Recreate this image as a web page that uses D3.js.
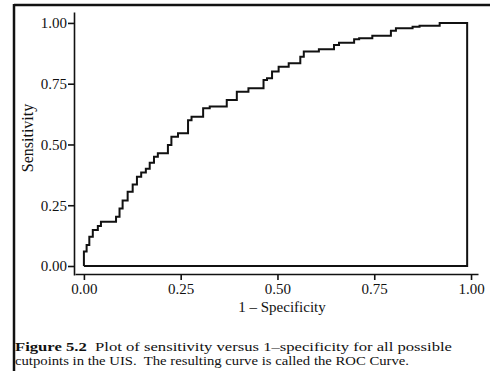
<!DOCTYPE html>
<html>
<head>
<meta charset="utf-8">
<script src="https://cdn.jsdelivr.net/npm/d3@7"></script>
<style>
  body { margin: 0; background: #fff; }
  svg { display: block; }
  text { font-family: "Liberation Serif", "DejaVu Serif", serif; fill: #111; }
</style>
</head>
<body>
<svg id="chart" width="490" height="371"></svg>
<script>
// ROC curve: 1 - specificity (x) and sensitivity (y)
const fpr = [0.00, 0.00, 0.007, 0.014, 0.023, 0.036, 0.044, 0.062, 0.083, 0.092,
  0.10, 0.113, 0.126, 0.137, 0.148, 0.16, 0.17, 0.181, 0.191, 0.217,
  0.226, 0.243, 0.269, 0.278, 0.308, 0.325, 0.369, 0.395, 0.425, 0.464,
  0.473, 0.486, 0.503, 0.529, 0.559, 0.568, 0.607, 0.646, 0.659, 0.698,
  0.711, 0.745, 0.754, 0.793, 0.806, 0.849, 0.867, 0.919, 0.923, 0.99, 0.99, 0.00];
const tpr = [0.00, 0.038, 0.06, 0.086, 0.12, 0.148, 0.165, 0.182, 0.182, 0.203,
  0.237, 0.27, 0.306, 0.335, 0.367, 0.385, 0.40, 0.425, 0.45, 0.464,
  0.498, 0.532, 0.546, 0.60, 0.614, 0.649, 0.656, 0.683, 0.717, 0.731,
  0.765, 0.772, 0.80, 0.82, 0.834, 0.861, 0.882, 0.892, 0.909, 0.919,
  0.933, 0.937, 0.947, 0.947, 0.968, 0.978, 0.984, 0.988, 1.0, 1.0, 0.0, 0.0];

const ticks = [0, 0.25, 0.5, 0.75, 1];
const xTitle = "1 \u2013 Specificity";
const yTitle = "Sensitivity";
const captionBold = "Figure 5.2";
const captionLines = [
  "  Plot of sensitivity versus 1\u2013specificity for all possible",
  "cutpoints in the UIS.  The resulting curve is called the ROC Curve."
];

const svg = d3.select("#chart");

// frame (cropped box)
svg.append("line").attr("x1", 14).attr("x2", 490).attr("y1", 5).attr("y2", 5)
  .attr("stroke", "#111").attr("stroke-width", 2.5);
svg.append("line").attr("x1", 14).attr("x2", 14).attr("y1", 4).attr("y2", 371)
  .attr("stroke", "#111").attr("stroke-width", 2.5);

// scales: domains padded so the axis lines overrun the data like the original
const x = d3.scaleLinear().domain([-0.023, 1.018]).range([75, 478]);
const y = d3.scaleLinear().domain([-0.037, 1.045]).range([275, 12]);

const fmt = d3.format(".2f");

const xAxis = svg.append("g")
  .attr("transform", "translate(0,274)")
  .call(d3.axisBottom(x).tickValues(ticks).tickFormat(fmt).tickSize(6).tickSizeOuter(0).tickPadding(3));

const yAxis = svg.append("g")
  .attr("transform", "translate(74,0)")
  .call(d3.axisLeft(y).tickValues(ticks).tickFormat(fmt).tickSize(6).tickSizeOuter(0).tickPadding(1));

[xAxis, yAxis].forEach(a => {
  a.selectAll("path, line").attr("stroke", "#111").attr("stroke-width", 1.6);
  a.selectAll("text").attr("font-size", 15).attr("font-family", "Liberation Serif").attr("fill", "#111");
});

// axis titles
svg.append("text")
  .attr("x", 282).attr("y", 312)
  .attr("text-anchor", "middle")
  .attr("font-size", 15)
  .text(xTitle);

svg.append("text")
  .attr("transform", "translate(33,138) rotate(-90)")
  .attr("text-anchor", "middle")
  .attr("font-size", 16)
  .text(yTitle);

// the curve, closed along the bottom and right edge
const pts = fpr.map((f, i) => [f, tpr[i]]);
const line = d3.line()
  .x(d => x(d[0]))
  .y(d => y(d[1]))
  .curve(d3.curveStepBefore);

svg.append("path")
  .attr("d", line(pts))
  .attr("fill", "none")
  .attr("stroke", "#111")
  .attr("stroke-width", 2)
  .attr("stroke-linejoin", "miter");

// caption, stretched to the widths of the printed lines
const cap = svg.append("text")
  .attr("x", 15).attr("y", 351)
  .attr("font-size", 13)
  .attr("textLength", 437)
  .attr("lengthAdjust", "spacingAndGlyphs")
  .style("white-space", "pre");
cap.append("tspan").attr("font-weight", "bold").text(captionBold);
cap.append("tspan").text(captionLines[0]);

svg.append("text")
  .attr("x", 15).attr("y", 365)
  .attr("font-size", 13)
  .attr("textLength", 394)
  .attr("lengthAdjust", "spacingAndGlyphs")
  .style("white-space", "pre")
  .text(captionLines[1]);
</script>
</body>
</html>
